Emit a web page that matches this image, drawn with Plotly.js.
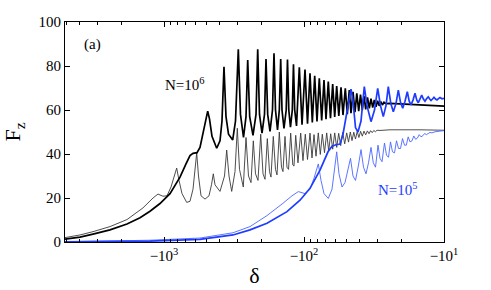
<!DOCTYPE html>
<html>
<head>
<meta charset="utf-8">
<script src="https://cdn.plot.ly/plotly-3.0.1.min.js"></script>
<style>html,body{margin:0;padding:0;background:#fff;}#chart{width:491px;height:290px;}</style>
</head>
<body>
<div id="chart"></div>
<script>
// delta values (negative detuning) and F_z values
const deltaBlackThick = [-5095,-3981,-3214,-2431,-1838,-1484,-1259,-1068,-906.1,-768.6,-696.4,-652.1,-620.7,-581.2,-553.2,-526.5,-501.2,-487.4,
 -473.2,-454.1,-420.3,-398.1,-385.2,-372.8,-360.7,-346.1,-323.0,-308.5,-294.6,-284.2,-270.5,-259.6,-252.4,
 -244.3,-231.4,-220.2,-214.1,-207.9,-199.5,-191.5,-186.8,-181.7,-174.9,-167.9,-163.8,-159.8,-154.6,-150.1,-146.7,-143.6,-139.0,-134.0,-131.2,-128.4,
 -124.9,-121.2,-118.9,-116.5,-113.1,-108.0,-103.3,-98.37,-94.41,-90.61,-87.23,-83.86,-80.75,-77.75,-74.74,-71.97,-69.64,-67.06,-64.68,-62.38,-60.36,-58.41,
 -56.42,-54.41,-52.65,-50.70,-49.06,-47.47,-46.16,-44.67,-43.22,-41.96,-40.67,-39.48,-38.33,-37.28,-36.25,-35.19,-34.16,-33.22,-32.30,-31.46,-30.60,-29.80,-29.03,-28.27,-27.54,-26.83,
 -25.96,-24.31,-20.62,-16.11,-12.59,-10];
const fzBlackThick = [1.3,2.2,3.6,5.5,8.2,11,14,17.5,22,29.5,35.5,39.3,40.3,40.6,43,49,56,59.5,
 56,48,42.6,46,55,79.7,57,49,46.4,55,87.6,58,47.5,57,82.7,
 57,48.5,58,87.6,58,49.5,58,83.2,58,50.3,60,85.8,60,51,60,83.2,60,51.6,60,83,60,
 52.2,60,80.8,60,52.8,79.4,53.3,78.4,53.8,76.7,54.3,75.5,54.8,74.4,55.3,73.6,55.8,72.9,56.3,71.8,56.8,70.9,
 57.3,70.3,57.7,69.9,58.1,69.1,58.6,68.3,59,67.6,59.5,67,59.9,66.3,60.3,65.7,60.7,65.2,61.1,64.6,61.5,64.2,61.9,63.8,62.3,63.5,
 62.9,63,62.8,62.5,62.2,61.8];

const deltaBlackThin = [-5095,-3981,-3214,-2431,-1838,-1413,-1198,-1104,-1017,-951.9,-891.2,-848.3,-811.5,-781.3,-743.7,-688.5,-652.1,-620.7,-600.6,-584.1,-567.0,
 -544.1,-509.5,-477.1,-457.9,-444.5,-432.2,-398.1,-369.7,-356.6,-343.3,-328.4,-311.0,-299.5,-288.9,-271.4,
 -259.6,-249.1,-239.1,-230.2,-222.0,-213.1,-203.8,-196.2,-189.9,-182.8,-176.4,-172.1,-165.7,-159.8,-155.9,-150.1,-144.8,-141.3,
 -136.7,-132.3,-129.0,-124.5,-120.2,-117.9,-114.6,-110.4,-105.6,-101.7,-97.89,-94.41,-90.61,-87.66,-84.83,-82.09,-79.04,-76.48,-74.01,-71.38,
 -68.85,-66.62,-64.46,-62.38,-60.36,-58.41,-56.52,-54.69,-52.91,-51.20,-49.55,-48.10,-46.70,-45.41,-44.09,-42.87,-41.69,-40.54,-39.42,-38.33,-37.28,-36.25,-35.25,-34.33,-33.44,-32.57,-31.72,-30.90,-30.10,
 -28.65,-24.31,-20.62,-14.84,-10];
const fzBlackThin = [2,3.2,4.7,7,10.2,15.5,20,21.8,20.8,21,25,29,33.6,28,22,18,18.5,24,33,40.5,30,
 21,19.5,21,26,31,26,23,30,41.8,30,23,32,51.7,33,25,
 47.5,30,27,46,31,28,49,31,28.5,47,32,29.5,48,33,30.5,50,34,32,
 48,34,33,49.5,35,34.5,48.5,36,49.5,37,49,37.5,49.5,38.2,48.8,39,49.6,39.8,49,40.6,
 49.6,41.4,49.2,42.2,49.6,43,49.4,43.8,49.8,44.6,49.6,45.4,50,46.1,49.9,46.8,50.2,47.5,50.3,48.1,50.4,48.7,50.5,49.2,50.6,49.7,50.7,50.1,50.8,
 50.7,51,51.1,51,50.8];

const deltaBlueThick = [-5095,-1259,-553.2,-321.4,-243.1,-183.8,-132.3,-106.8,-90.61,-76.86,-67.39,-63.10,-59.08,-55.32,-52.65,-49.71,-47.71,-46.16,-44.67,-42.87,
 -41.14,-39.16,-37.09,-35.48,-33.22,-31.36,-29.75,-28.42,-27.14,-25.96,-25.00,-23.99,-23.02,-22.02,-21.20,-20.45,-19.72,-18.99,-18.29,-17.72,
 -17.21,-16.65,-16.11,-15.64,-15.26,-14.84,-14.43,-14.03,-13.67,-13.29,-12.95,-12.65,-12.38,-12.08,-11.79,-11.50,-11.22,-10.95,-10.68,-10.33,-10];
const fzBlueThick = [0.1,0.4,1.2,3.2,5.5,8.5,13.8,19,24.4,32.7,41,43.5,44.2,44.5,49,58.5,66,69.5,64,52,
 50,55,70.6,62,54.7,60,69.8,62,57,62,70.6,63,59.2,63,69,63.5,60.8,64,68.3,64,
 62.3,64.5,67.6,64.5,63.3,65,66.8,65,64,65.2,66,65,64.3,65,65.8,65,64.6,65.2,65.7,65.1,65.3];

const deltaBlueThin = [-5095,-1259,-553.2,-321.4,-243.1,-183.8,-141.3,-121.8,-109.8,-98.37,-90.61,-84.83,-79.04,-75.61,-71.97,-67.06,-63.10,-60.56,-58.41,-56.24,
 -53.53,-50.95,-48.50,-46.55,-44.67,-42.87,-40.80,-39.16,-37.58,-36.07,-34.61,-33.22,-31.99,-30.85,-29.61,-28.65,-27.72,-26.61,-25.75,-24.91,
 -24.11,-23.33,-22.57,-21.84,-21.13,-20.45,-19.79,-19.15,-18.59,-18.02,-17.49,-16.93,-16.43,-15.95,-15.49,-15.04,-14.60,-14.17,-13.76,-13.36,
 -12.97,-12.59,-12.18,-11.60,-10.68,-10];
const fzBlueThin = [0.15,0.8,1.8,4.2,7,12,17.6,21,22.9,22,24,29,35.5,28,22,19.8,24,32,41,31,
 25,27,33,38,30,28,35,42,34,31,36,43,36,34,44,38,36.5,45,39.5,38.5,
 45.5,41,40.5,46,42.5,42.5,47,44,44,47.8,45.5,46,48.2,46.7,47.2,48.8,47.8,48.3,49.3,48.8,
 49.3,49.8,49.6,50.1,50.4,50.6];

const xTickVals = [-1000,-100,-10];
const xTickText = ['\u221210<sup>3</sup>','\u221210<sup>2</sup>','\u221210<sup>1</sup>'];
const xMinorVals = [-5000,-4000,-3000,-2000,-900,-800,-700,-600,-500,-400,-300,-200,-90,-80,-70,-60,-50,-40,-30,-20];
const yTickVals = [0,20,40,60,80,100];

const mag = a => a.map(v => -v);
const serif = 'Liberation Serif, Times New Roman, serif';

const traces = [
  {x: mag(deltaBlackThin), y: fzBlackThin, mode:'lines', line:{color:'#3a3a3a', width:0.9}},
  {x: mag(deltaBlackThick), y: fzBlackThick, mode:'lines', line:{color:'#000000', width:1.7}},
  {x: mag(deltaBlueThin), y: fzBlueThin, mode:'lines', line:{color:'#4a66ff', width:0.9}},
  {x: mag(deltaBlueThick), y: fzBlueThick, mode:'lines', line:{color:'#1e3cff', width:1.7}}
];

const layout = {
  width: 491, height: 290,
  margin: {l:65, r:47, t:22, b:48},
  paper_bgcolor:'#fff', plot_bgcolor:'#fff',
  showlegend:false,
  font:{family:serif, size:15, color:'#000'},
  xaxis:{
    type:'log', range:[Math.log10(5095), 1],
    tickmode:'array', tickvals: mag(xTickVals), ticktext: xTickText,
    ticks:'inside', ticklen:5, tickwidth:1, tickcolor:'#000',
    minor:{tickmode:'array', tickvals: mag(xMinorVals), ticks:'inside', ticklen:3, tickwidth:1, tickcolor:'#000', showgrid:false},
    showline:true, linecolor:'#000', linewidth:1, mirror:'ticks',
    showgrid:false, zeroline:false,
    tickfont:{family:serif, size:15, color:'#000'},
    title:{text:'\u03b4', font:{family:serif, size:22, color:'#000'}, standoff:4}
  },
  yaxis:{
    range:[0,100], tickmode:'array', tickvals:yTickVals,
    ticks:'inside', ticklen:5, tickwidth:1, tickcolor:'#000',
    showline:true, linecolor:'#000', linewidth:1, mirror:'ticks',
    showgrid:false, zeroline:false,
    tickfont:{family:serif, size:15, color:'#000'},
    title:{text:'F<sub>z</sub>', font:{family:serif, size:22, color:'#000'}, standoff:12}
  },
  annotations:[
    {xref:'paper', yref:'paper', x:0.072, y:0.9, text:'(a)', showarrow:false, xanchor:'center', yanchor:'middle', font:{family:serif, size:15, color:'#000'}},
    {xref:'paper', yref:'paper', x:0.317, y:0.72, text:'N=10<sup>6</sup>', showarrow:false, xanchor:'center', yanchor:'middle', font:{family:serif, size:15, color:'#000'}},
    {xref:'paper', yref:'paper', x:0.879, y:0.24, text:'N=10<sup>5</sup>', showarrow:false, xanchor:'center', yanchor:'middle', font:{family:serif, size:15, color:'#1e3cff'}}
  ]
};

Plotly.newPlot('chart', traces, layout, {staticPlot:true, displayModeBar:false});
</script>
</body>
</html>
